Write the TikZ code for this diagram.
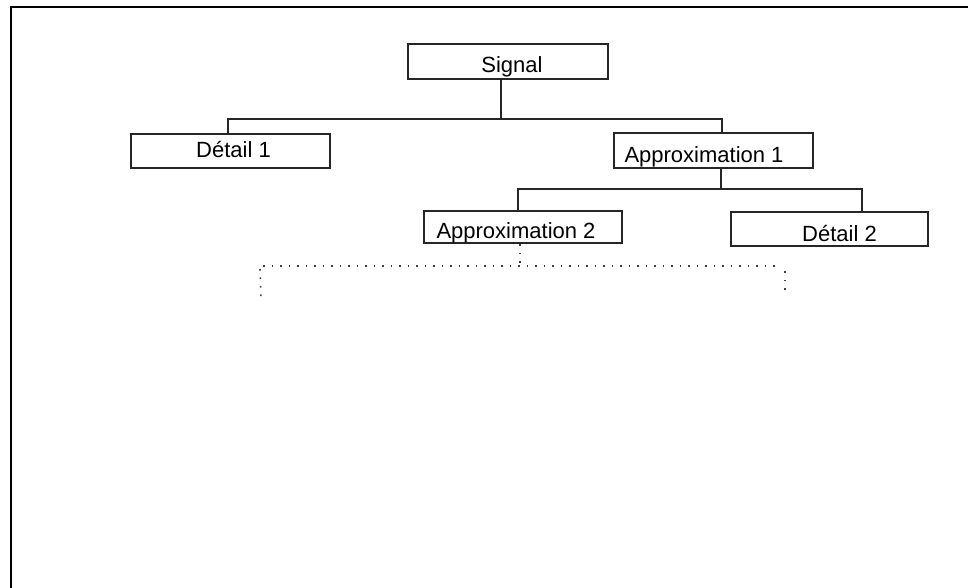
\documentclass[tikz,border=0pt]{standalone}
\usepackage{fontspec}
\setmainfont{Liberation Sans}
\begin{document}
\begin{tikzpicture}[x=1pt,y=-1pt,
  box/.style={draw=black!85, line width=1.3pt, rectangle, inner sep=0pt},
  txt/.style={font=\fontsize{22}{26}\selectfont, inner sep=0pt, anchor=base},
  conn/.style={draw=black!85, line width=1.3pt},
  dots/.style={draw=black!75, line width=1.6pt, dash pattern=on 1.6pt off 6.9pt}]
\useasboundingbox (0,0) rectangle (968,588);
\fill[white] (0,0) rectangle (968,588);
% frame
\draw[line width=2.4pt, line cap=rect] (11,590) -- (11,7) -- (970,7);
% boxes
\node[box, minimum width=200pt, minimum height=35pt] (sig) at (508,61.5) {};
\node[box, minimum width=199pt, minimum height=34pt] (d1) at (230.5,151) {};
\node[box, minimum width=199pt, minimum height=35pt] (a1) at (713.5,150.5) {};
\node[box, minimum width=198pt, minimum height=32pt] (a2) at (523,227) {};
\node[box, minimum width=197pt, minimum height=34pt] (dt2) at (829.5,229) {};
% texts
\node[txt] (sigt) at (512,73) {Signal};
\node[txt] (d1t) at (233.5,158) {Détail 1};
\node[txt] (a1t) at (704,163) {Approximation 1};
\node[txt] (a2t) at (516,238) {Approximation 2};
\node[txt] (dt2t) at (839.5,241) {Détail 2};
% junctions
\coordinate (j0) at (501,119);
\coordinate (jl) at (228,119);
\coordinate (jr) at (722,119);
\coordinate (k0) at (721,189);
\coordinate (kl) at (518,189);
\coordinate (kr) at (862,189);
\draw[conn] (sig.south -| j0) -- (j0);
\draw[conn] (d1.north -| jl) |- (jr) -- (a1.north -| jr);
\draw[conn] (a1.south -| k0) -- (k0);
\draw[conn] (a2.north -| kl) |- (kr) -- (dt2.north -| kr);
% dotted continuation
\coordinate (m0) at (520,266);
\coordinate (ml) at (263,266);
\coordinate (mr) at (778,266);
\coordinate (lt) at (260,269);
\coordinate (lb) at (261,299);
\coordinate (rt) at (785,271);
\coordinate (rb) at (785,292);
\draw[dots] ([yshift=8pt]a2.south -| m0) -- (m0);
\draw[dots] (ml) -- (mr);
\draw[dots] (lt) -- (lb);
\draw[dots] (rt) -- (rb);
\end{tikzpicture}
\end{document}
